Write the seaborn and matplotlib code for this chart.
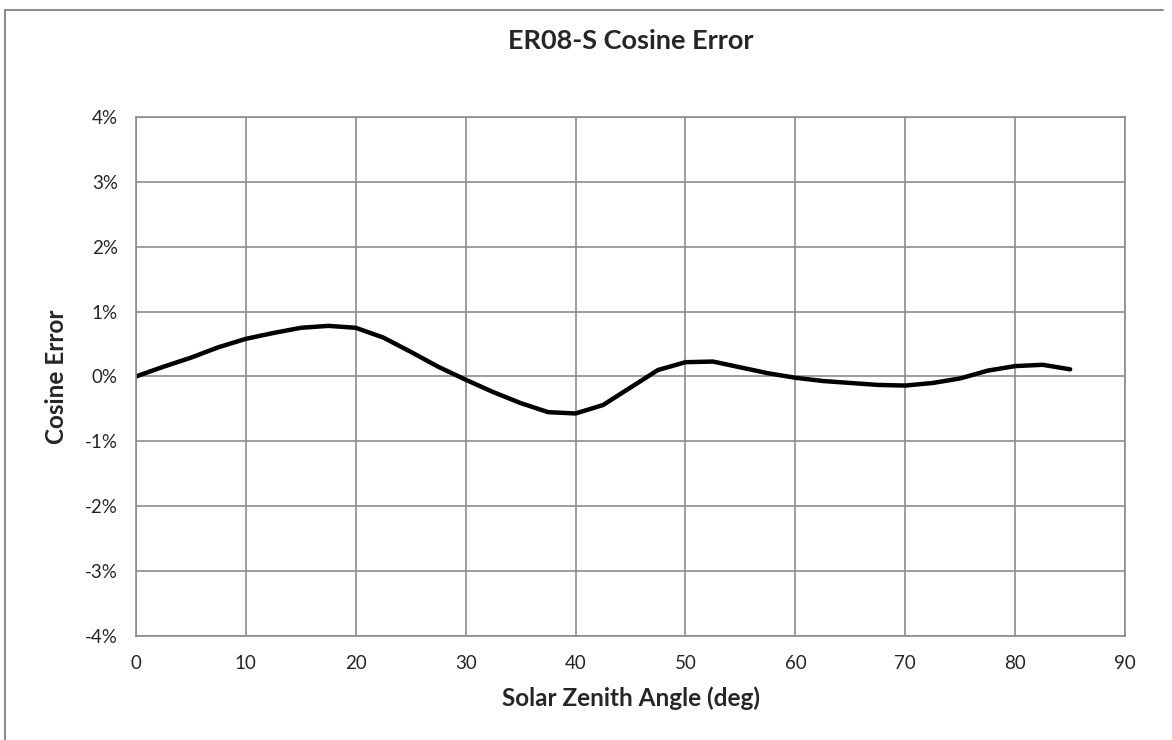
import numpy as np
import pandas as pd
import seaborn as sns
import matplotlib.pyplot as plt
from matplotlib.lines import Line2D
from matplotlib.ticker import FuncFormatter

# Readings (deg, % cosine error)
angle = [0, 2.5, 5, 7.5, 10, 12.5, 15, 17.5, 20, 22.5, 25, 27.5, 30, 32.5, 35,
         37.5, 40, 42.5, 45, 47.5, 50, 52.5, 55, 57.5, 60, 62.5, 65, 67.5, 70,
         72.5, 75, 77.5, 80, 82.5, 85]
cos_err = [0.00, 0.15, 0.29, 0.45, 0.58, 0.67, 0.75, 0.78, 0.75, 0.60, 0.38,
           0.15, -0.05, -0.24, -0.41, -0.55, -0.57, -0.44, -0.17, 0.10, 0.22,
           0.23, 0.14, 0.05, -0.02, -0.07, -0.10, -0.13, -0.14, -0.10, -0.03,
           0.09, 0.16, 0.18, 0.11]

df = pd.DataFrame({"angle": angle, "err": np.array(cos_err) / 100})

sns.set_style("white")
plt.rcParams["font.family"] = ["Lato", "DejaVu Sans"]

grey = "#8c8c8c"
fig = plt.figure(figsize=(11.72, 7.4), dpi=100)
ax = fig.add_axes([0.116, 0.1405, 0.844, 0.7015])

sns.lineplot(data=df, x="angle", y="err", color="black", linewidth=3.2, ax=ax,
             solid_joinstyle="round", solid_capstyle="round")

ax.set_xlim(0, 90)
ax.set_ylim(-0.04, 0.04)
ax.set_xticks(range(0, 91, 10))
ax.set_yticks(np.arange(-0.04, 0.041, 0.01))
ax.yaxis.set_major_formatter(FuncFormatter(lambda v, p: f"{v * 100:.0f}%"))
ax.grid(True, color=grey, linewidth=1.2)
for s in ax.spines.values():
    s.set_color(grey)
    s.set_linewidth(1.2)
ax.tick_params(axis="both", direction="out", length=5, width=1.2, color=grey,
               labelsize=13.5, pad=8)
ax.tick_params(axis="x", pad=9)

ax.set_title("ER08-S Cosine Error", fontsize=19.5, fontweight="bold", pad=49)
ax.set_xlabel("Solar Zenith Angle (deg)", fontsize=17.5, fontweight="bold", labelpad=10)
ax.set_ylabel("Cosine Error", fontsize=17.5, fontweight="bold", labelpad=12)

# chart-area border (top and left visible in reference)
fig.add_artist(Line2D([0.0043, 0.992], [0.9865, 0.9865], transform=fig.transFigure,
                      color=grey, linewidth=1.5))
fig.add_artist(Line2D([0.0043, 0.0043], [0.0, 0.9865], transform=fig.transFigure,
                      color=grey, linewidth=1.5))

fig.savefig("out.png", dpi=100)
